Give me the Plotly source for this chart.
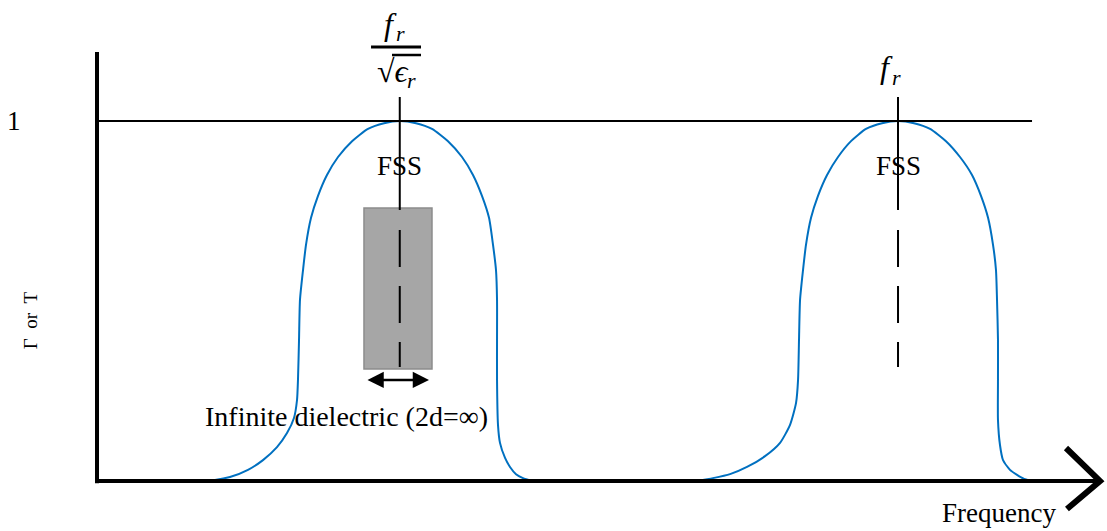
import math
import plotly.graph_objects as go

# Relative permittivity of the dielectric half-space; frequencies normalised to f_r
eps_r = 7.0
f_r = 1.0
f_low = f_r / math.sqrt(eps_r)

# Reflection / transmission response of the FSS alone (peak at f_r)
f_fss = [0.7491, 0.7690, 0.7903, 0.8115, 0.8340, 0.8527, 0.8652, 0.8727, 0.8752,
         0.8764, 0.8777, 0.8814, 0.8851, 0.8914, 0.9001, 0.9114, 0.9251, 0.9413,
         0.9600, 0.9800, 1.0000, 1.0200, 1.0400, 1.0599, 1.0774, 1.0924, 1.1036,
         1.1124, 1.1186, 1.1223, 1.1236, 1.1248, 1.1248, 1.1248, 1.1273, 1.1311,
         1.1398, 1.1486, 1.1573, 1.1673]
g_fss = [0.000, 0.008, 0.019, 0.039, 0.069, 0.106, 0.156, 0.217, 0.281,
         0.392, 0.503, 0.586, 0.656, 0.731, 0.792, 0.850, 0.900, 0.944,
         0.978, 0.994, 1.000, 0.994, 0.978, 0.944, 0.900, 0.850, 0.792,
         0.731, 0.656, 0.586, 0.503, 0.392, 0.281, 0.169, 0.100, 0.058,
         0.031, 0.017, 0.006, 0.000]

# Response of the FSS on an infinite dielectric (shifted to f_r / sqrt(eps_r))
f_diel = [0.1248, 0.1473, 0.1660, 0.1885, 0.2072, 0.2247, 0.2372, 0.2459, 0.2497,
          0.2509, 0.2522, 0.2534, 0.2572, 0.2609, 0.2672, 0.2759, 0.2871, 0.3009,
          0.3184, 0.3383, 0.3583, 0.3783, 0.3983, 0.4182, 0.4382, 0.4557, 0.4694,
          0.4806, 0.4894, 0.4944, 0.4981, 0.4994, 0.4994, 0.4994, 0.5006, 0.5031,
          0.5094, 0.5156, 0.5231, 0.5318, 0.5431]
g_diel = [0.000, 0.003, 0.011, 0.031, 0.058, 0.094, 0.133, 0.175, 0.225,
          0.281, 0.392, 0.503, 0.586, 0.656, 0.731, 0.792, 0.850, 0.900,
          0.944, 0.978, 0.994, 1.000, 0.994, 0.978, 0.944, 0.900, 0.850,
          0.792, 0.731, 0.656, 0.586, 0.503, 0.392, 0.281, 0.156, 0.106,
          0.064, 0.039, 0.019, 0.008, 0.000]

curve_color = "#0070C0"
serif = "Liberation Serif, Times New Roman, serif"

fig = go.Figure()
for fx, gy in ((f_diel, g_diel), (f_fss, g_fss)):
    fig.add_trace(go.Scatter(x=fx, y=gy, mode="lines",
                             line=dict(color=curve_color, width=2, shape="spline", smoothing=0.6),
                             hoverinfo="skip", showlegend=False))

shapes = []
black = "#000000"
# axes
shapes.append(dict(type="line", x0=0, x1=0, y0=-0.006, y1=1.192, line=dict(color=black, width=4)))
shapes.append(dict(type="line", x0=0, x1=1.2497, y0=0, y1=0, line=dict(color=black, width=4)))
shapes.append(dict(type="path", path="M 1.2097 0.0917 L 1.2522 0 L 1.2109 -0.0778",
                   line=dict(color=black, width=6)))
# unity level
shapes.append(dict(type="line", x0=0, x1=1.1673, y0=1, y1=1, line=dict(color=black, width=2)))
# dielectric slab
shapes.append(dict(type="rect", x0=0.3333, x1=0.4182, y0=0.3111, y1=0.7583,
                   fillcolor="#A6A6A6", line=dict(color="#8C8C8C", width=1.5), layer="below"))
# resonance markers: solid stem then dashed continuation
for fc in (f_low, f_r):
    shapes.append(dict(type="line", x0=fc, x1=fc, y0=0.7528, y1=1.0667, line=dict(color=black, width=2)))
    shapes.append(dict(type="line", x0=fc, x1=fc, y0=0.6972, y1=0.3167,
                       line=dict(color=black, width=2, dash="37px,19px")))
# fraction bar and radical overline
shapes.append(dict(type="line", x0=0.3421, x1=0.4045, y0=1.2056, y1=1.2056, line=dict(color=black, width=3)))
shapes.append(dict(type="line", x0=0.3683, x1=0.4045, y0=1.1833, y1=1.1833, line=dict(color=black, width=2.5)))

ann = []
def text(x, y, s, size=27, style="normal", **kw):
    ann.append(dict(x=x, y=y, xref="x", yref="y", text=s, showarrow=False,
                    font=dict(family=serif, size=size, color=black, style=style), **kw))

text(-0.1036, 1.0, "1")
text(-0.0835, 0.447, "Γ\u00a0\u00a0or\u00a0\u00a0T", size=19, textangle=-90)
text(f_low, 0.875, "FSS")
text(f_r, 0.875, "FSS")
text(0.3117, 0.18, "Infinite dielectric (2d=\u221e)", size=28)
text(1.126, -0.09, "Frequency")

# frequency labels in italic math style: base symbol plus lowered subscript
def math_label(x, y, base, sub, sub_dx):
    text(x, y, base, size=32, style="italic")
    text(x + sub_dx, y - 0.028, sub, size=22, style="italic")

math_label(0.3665, 1.27, "f", "r", 0.0125)          # numerator f_r
math_label(0.3689, 1.14, "\u221a\u03f5", "r", 0.0240)  # denominator sqrt(eps_r)
math_label(0.9860, 1.15, "f", "r", 0.0125)          # f_r

# slab thickness arrow
ann.append(dict(x=0.4145, y=0.2806, ax=0.3358, ay=0.2806, xref="x", yref="y", axref="x", ayref="y",
                text="", showarrow=True, arrowhead=2, arrowside="end+start",
                arrowsize=1.3, arrowwidth=2.5, arrowcolor=black))

fig.update_layout(
    width=1107, height=531,
    margin=dict(l=0, r=0, t=0, b=0),
    paper_bgcolor="white", plot_bgcolor="white",
    xaxis=dict(range=[-0.1211, 1.2609], visible=False, fixedrange=True),
    yaxis=dict(range=[-0.1389, 1.3361], visible=False, fixedrange=True),
    shapes=shapes, annotations=ann, showlegend=False,
)

fig.write_html("out.html")
